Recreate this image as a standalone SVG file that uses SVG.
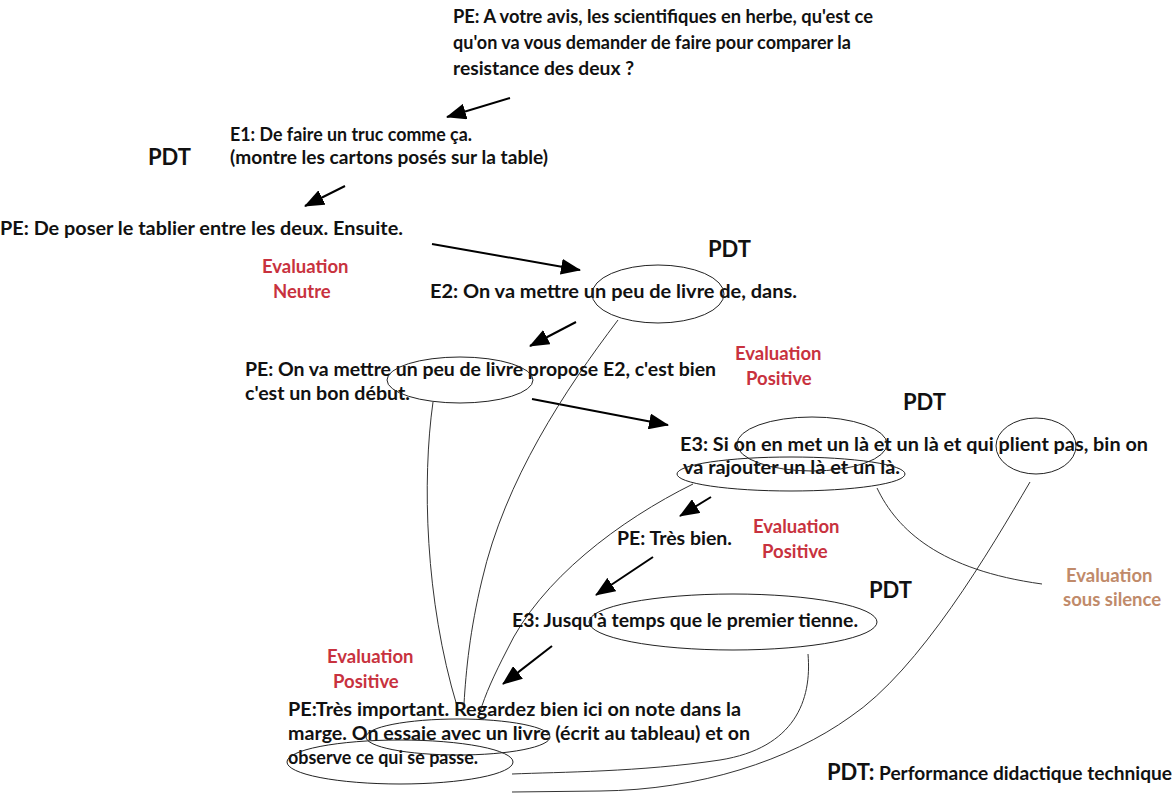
<svg xmlns="http://www.w3.org/2000/svg" width="1176" height="793" viewBox="0 0 1176 793">
<style>
.t{font-family:Lato,"Open Sans","Liberation Sans",sans-serif;font-weight:bold;font-size:18px;fill:#111}
.pdt{font-family:Lato,"Open Sans","Liberation Sans",sans-serif;font-weight:bold;font-size:22px;fill:#111}
.red{font-family:Lato,"Open Sans","Liberation Sans",sans-serif;font-weight:bold;font-size:18.5px;fill:#c8323e}
.tan{font-family:Lato,"Open Sans","Liberation Sans",sans-serif;font-weight:bold;font-size:18.5px;fill:#c08a6a}
.arr{stroke:#000;stroke-width:2;fill:none;marker-end:url(#ah)}
.ov{fill:none;stroke:#222;stroke-width:1}
.cv{fill:none;stroke:#333;stroke-width:1}
</style>
<defs>
<marker id="ah" markerUnits="userSpaceOnUse" markerWidth="20" markerHeight="16" viewBox="0 0 20 16" refX="19" refY="8" orient="auto">
<path d="M0,0 L20,8 L0,16 z" fill="#000"/>
</marker>
</defs>
<rect width="1176" height="793" fill="#fff"/>
<g id="connectors">
<line class="arr" x1="510" y1="98" x2="447" y2="117"/>
<line class="arr" x1="345" y1="186" x2="305" y2="206"/>
<line class="arr" x1="432" y1="244" x2="580" y2="270"/>
<line class="arr" x1="576" y1="322" x2="530" y2="346"/>
<line class="arr" x1="532" y1="399" x2="668" y2="425"/>
<line class="arr" x1="711" y1="497" x2="680" y2="516"/>
<line class="arr" x1="653" y1="557" x2="596" y2="595"/>
<line class="arr" x1="552" y1="646" x2="503" y2="684"/>
<path class="cv" d="M433,402 C422,480 425,600 457,706"/>
<path class="cv" d="M618,320 C565,390 505,480 482,580 C470,630 466,670 464,704"/>
<path class="cv" d="M693,484 C620,520 540,580 507,650 C494,675 485,695 480,712"/>
<path class="cv" d="M808,654 C812,700 795,748 720,760 C640,772 560,772 512,774"/>
<path class="cv" d="M1030,482 C990,550 920,670 850,717 C790,760 700,790 600,791 L512,792"/>
<path class="cv" d="M877,488 C897,530 940,570 1042,584"/>
</g>
<g id="q1">
<text class="t" x="453" y="23" textLength="420" lengthAdjust="spacingAndGlyphs">PE: A votre avis, les scientifiques en herbe, qu'est ce</text>
<text class="t" x="453" y="49" textLength="398" lengthAdjust="spacingAndGlyphs">qu'on va vous demander de faire pour comparer la</text>
<text class="t" x="453" y="75" textLength="181" lengthAdjust="spacingAndGlyphs">resistance des deux ?</text>
</g>
<g id="e1">
<text class="t" x="230" y="141" textLength="242" lengthAdjust="spacingAndGlyphs">E1: De faire un truc comme ça.</text>
<text class="t" x="230" y="164" textLength="318" lengthAdjust="spacingAndGlyphs">(montre les cartons posés sur la table)</text>
</g>
<g id="pdt1"><text class="pdt" x="148" y="165">PDT</text></g>
<g id="pe2"><text class="t" x="0" y="235" textLength="403" lengthAdjust="spacingAndGlyphs">PE: De poser le tablier entre les deux. Ensuite.</text></g>
<g id="eval-neutre">
<text class="red" x="262" y="273">Evaluation</text>
<text class="red" x="273" y="298">Neutre</text>
</g>
<g id="pdt2"><text class="pdt" x="708" y="257">PDT</text></g>
<g id="e2">
<text class="t" x="430" y="298" textLength="367" lengthAdjust="spacingAndGlyphs">E2: On va mettre un peu de livre de, dans.</text>
<ellipse class="ov" cx="658" cy="294" rx="66" ry="29"/>
</g>
<g id="pe3">
<text class="t" x="245" y="376" textLength="471" lengthAdjust="spacingAndGlyphs">PE: On va mettre un peu de livre propose E2, c'est bien</text>
<text class="t" x="245" y="400" textLength="165" lengthAdjust="spacingAndGlyphs">c'est un bon début.</text>
<ellipse class="ov" cx="460" cy="380" rx="73" ry="23"/>
</g>
<g id="eval-pos1">
<text class="red" x="735" y="360">Evaluation</text>
<text class="red" x="746" y="385">Positive</text>
</g>
<g id="pdt3"><text class="pdt" x="903" y="410">PDT</text></g>
<g id="e3">
<text class="t" x="680" y="451" textLength="468" lengthAdjust="spacingAndGlyphs">E3: Si on en met un là et un là et qui plient pas, bin on</text>
<text class="t" x="683" y="474" textLength="217" lengthAdjust="spacingAndGlyphs">va rajouter un là et un là.</text>
<ellipse class="ov" cx="812" cy="444" rx="75" ry="27"/>
<ellipse class="ov" cx="791" cy="474" rx="114" ry="17"/>
<ellipse class="ov" cx="1036" cy="446" rx="40" ry="28"/>
</g>
<g id="pe4"><text class="t" x="617" y="545" textLength="115" lengthAdjust="spacingAndGlyphs">PE: Très bien.</text></g>
<g id="eval-pos2">
<text class="red" x="753" y="533">Evaluation</text>
<text class="red" x="762" y="558">Positive</text>
</g>
<g id="pdt4"><text class="pdt" x="869" y="598">PDT</text></g>
<g id="eval-silence">
<text class="tan" x="1066" y="582">Evaluation</text>
<text class="tan" x="1063" y="606">sous silence</text>
</g>
<g id="e3b">
<text class="t" x="512" y="627" textLength="346" lengthAdjust="spacingAndGlyphs">E3: Jusqu'à temps que le premier tienne.</text>
<ellipse class="ov" cx="733" cy="622" rx="144" ry="28"/>
</g>
<g id="eval-pos3">
<text class="red" x="327" y="663">Evaluation</text>
<text class="red" x="333" y="688">Positive</text>
</g>
<g id="pe5">
<text class="t" x="288" y="716" textLength="453" lengthAdjust="spacingAndGlyphs">PE:Très important. Regardez bien ici on note dans la</text>
<text class="t" x="288" y="740" textLength="462" lengthAdjust="spacingAndGlyphs">marge. On essaie avec un livre (écrit au tableau) et on</text>
<text class="t" x="288" y="764" textLength="190" lengthAdjust="spacingAndGlyphs">observe ce qui se passe.</text>
<ellipse class="ov" cx="458" cy="737" rx="92" ry="18"/>
<ellipse class="ov" cx="400" cy="762" rx="113" ry="22"/>
</g>
<g id="legend">
<text class="pdt" x="827" y="780">PDT:</text>
<text class="t" x="879" y="780" textLength="293" lengthAdjust="spacingAndGlyphs">Performance didactique technique</text>
</g>
</svg>
